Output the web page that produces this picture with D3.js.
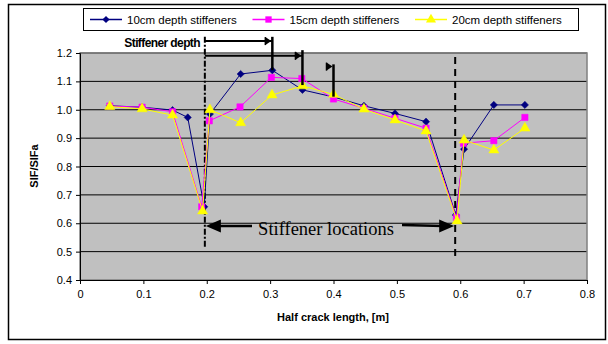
<!DOCTYPE html>
<html>
<head>
<meta charset="utf-8">
<script src="https://cdn.jsdelivr.net/npm/d3@7.9.0/dist/d3.min.js"></script>
<style>
  body { margin: 0; background: #fff; }
  svg { display: block; font-family: "Liberation Sans", Arial, sans-serif; }
</style>
</head>
<body>
<svg id="chart" width="608" height="344"></svg>
<script>
// data
const seriesNames = ['10cm depth stiffeners', '15cm depth stiffeners', '20cm depth stiffeners'];
const x10 = [0.047, 0.098, 0.146, 0.17, 0.196, 0.205, 0.2535, 0.3035, 0.351, 0.4, 0.448, 0.497, 0.546, 0.593, 0.606, 0.653, 0.702];
const y10 = [1.014, 1.009, 0.999, 0.973, 0.658, 0.985, 1.126, 1.139, 1.07, 1.045, 1.014, 0.987, 0.958, 0.629, 0.861, 1.017, 1.017];
const x15 = [0.047, 0.098, 0.146, 0.192, 0.204, 0.2525, 0.302, 0.35, 0.4, 0.448, 0.497, 0.546, 0.594, 0.605, 0.653, 0.702];
const y15 = [1.013, 1.009, 0.993, 0.658, 0.961, 1.01, 1.114, 1.11, 1.038, 1.005, 0.97, 0.935, 0.62, 0.882, 0.891, 0.973];
const x20 = [0.047, 0.098, 0.146, 0.1935, 0.205, 0.2535, 0.303, 0.351, 0.4, 0.448, 0.497, 0.546, 0.595, 0.606, 0.653, 0.702];
const y20 = [1.011, 1.003, 0.981, 0.643, 1.0, 0.954, 1.052, 1.084, 1.054, 1.002, 0.964, 0.925, 0.608, 0.893, 0.858, 0.935];
const xTicks = [0, 0.1, 0.2, 0.3, 0.4, 0.5, 0.6, 0.7, 0.8];
const yTicks = [0.4, 0.5, 0.6, 0.7, 0.8, 0.9, 1.0, 1.1, 1.2];
const stiffenerX = [0.197, 0.592];

const svg = d3.select('#chart');
const x = d3.scaleLinear().domain([0, 0.8]).range([80, 587]);
const y = d3.scaleLinear().domain([0.4, 1.2]).range([280, 53]);

// outer frame
svg.append('rect').attr('x', 8.5).attr('y', 4.5).attr('width', 597).attr('height', 335)
  .attr('fill', '#fff').attr('stroke', '#000').attr('stroke-width', 1.5);

// plot area
svg.append('rect').attr('x', x(0)).attr('y', y(1.2)).attr('width', x(0.8) - x(0)).attr('height', y(0.4) - y(1.2))
  .attr('fill', '#c0c0c0');
svg.append('g').selectAll('line').data(yTicks.slice(1)).join('line')
  .attr('x1', x(0)).attr('x2', x(0.8)).attr('y1', d => y(d)).attr('y2', d => y(d))
  .attr('stroke', '#000').attr('stroke-width', 1);
svg.append('rect').attr('x', x(0)).attr('y', y(1.2)).attr('width', x(0.8) - x(0)).attr('height', y(0.4) - y(1.2))
  .attr('fill', 'none').attr('stroke', '#808080').attr('stroke-width', 1.5);

// axes
const xAxis = svg.append('g').attr('transform', `translate(0,${y(0.4)})`)
  .call(d3.axisBottom(x).tickValues(xTicks).tickFormat(d => d === 0 ? '0' : d3.format('.1f')(d)).tickSizeOuter(0).tickSize(4).tickPadding(6));
const yAxis = svg.append('g').attr('transform', `translate(${x(0)},0)`)
  .call(d3.axisLeft(y).tickValues(yTicks).tickFormat(d3.format('.1f')).tickSizeOuter(0).tickSize(4).tickPadding(4));
[xAxis, yAxis].forEach(g => {
  g.select('.domain').attr('stroke', '#000');
  g.selectAll('.tick line').attr('stroke', '#000');
  g.selectAll('.tick text').attr('font-size', 11).attr('fill', '#000')
    .attr('font-family', '"Liberation Sans", Arial, sans-serif');
});

svg.append('text').attr('x', 333).attr('y', 321).attr('text-anchor', 'middle')
  .attr('font-size', 11).attr('font-weight', 'bold').text('Half crack length, [m]');
svg.append('text').attr('transform', 'translate(38,166) rotate(-90)').attr('text-anchor', 'middle')
  .attr('font-size', 11).attr('font-weight', 'bold').text('SIF/SIFa');

// annotation lines (behind series)
const ann = svg.append('g');
ann.append('line').attr('x1', x(stiffenerX[0])).attr('x2', x(stiffenerX[0])).attr('y1', y(1.257)).attr('y2', y(0.516))
  .attr('stroke', '#000').attr('stroke-width', 2).attr('stroke-dasharray', '6,2,2,2');
ann.append('line').attr('x1', x(stiffenerX[1])).attr('x2', x(stiffenerX[1])).attr('y1', y(1.186)).attr('y2', y(0.478))
  .attr('stroke', '#000').attr('stroke-width', 2).attr('stroke-dasharray', '7,5');

// series
const series = [
  { xs: x10, ys: y10, color: '#000080', shape: d3.symbolSquare, size: 26, rot: 45 },
  { xs: x15, ys: y15, color: '#ff00ff', shape: d3.symbolSquare, size: 40, rot: 0 },
  { xs: x20, ys: y20, color: '#ffff00', shape: d3.symbolTriangle, size: 44, rot: 0 }
];
const line = d3.line().x(d => x(d[0])).y(d => y(d[1]));
series.forEach(s => {
  const pts = s.xs.map((v, i) => [v, s.ys[i]]);
  svg.append('path').datum(pts).attr('d', line).attr('fill', 'none')
    .attr('stroke', s.color).attr('stroke-width', 1);
  svg.append('g').selectAll('path').data(pts).join('path')
    .attr('transform', d => `translate(${x(d[0])},${y(d[1])}) rotate(${s.rot})`)
    .attr('d', d3.symbol().type(s.shape).size(s.size))
    .attr('fill', s.color).attr('stroke', s.color).attr('stroke-width', 0.5);
});

// arrow heads
function head(g, tipX, tipY, dir, len, half) {
  g.append('path')
    .attr('d', `M${tipX},${tipY} L${tipX - dir * len},${tipY - half} L${tipX - dir * len},${tipY + half} Z`)
    .attr('fill', '#000');
}

// stiffener locations arrows
const locY = y(0.59);
ann.append('line').attr('x1', 252).attr('x2', x(stiffenerX[0]) + 12).attr('y1', locY).attr('y2', locY)
  .attr('stroke', '#000').attr('stroke-width', 2.5);
head(svg, x(stiffenerX[0]) + 1, locY, -1, 15, 6.5);
ann.append('line').attr('x1', 402).attr('x2', x(stiffenerX[1]) - 12).attr('y1', locY - 1).attr('y2', locY)
  .attr('stroke', '#000').attr('stroke-width', 2.5);
head(svg, x(stiffenerX[1]) - 1, locY, 1, 15, 6.5);
svg.append('text').attr('x', 326).attr('y', 235).attr('text-anchor', 'middle')
  .attr('font-family', '"Liberation Serif", "Times New Roman", serif').attr('font-size', 18.5)
  .text('Stiffener locations');

// stiffener depth arrows
svg.append('text').attr('x', 200).attr('y', 47).attr('text-anchor', 'end')
  .attr('font-family', '"Liberation Sans Narrow", "Liberation Sans", Arial, sans-serif')
  .attr('font-weight', 'bold').attr('font-size', 12).attr('letter-spacing', -0.6)
  .text('Stiffener depth');
const depth = [
  { xEnd: 0.3035, yArrow: 1.242, yTop: 1.257, yBot: 1.139, shaft: true },
  { xEnd: 0.351, yArrow: 1.19, yTop: 1.21, yBot: 1.087, shaft: true },
  { xEnd: 0.4, yArrow: 1.152, yTop: 1.16, yBot: 1.046, shaft: false }
];
depth.forEach(d => {
  const xe = x(d.xEnd), ya = y(d.yArrow);
  if (d.shaft) {
    svg.append('line').attr('x1', x(stiffenerX[0])).attr('x2', xe).attr('y1', ya).attr('y2', ya)
      .attr('stroke', '#000').attr('stroke-width', 2);
  }
  svg.append('line').attr('x1', xe).attr('x2', xe).attr('y1', y(d.yTop)).attr('y2', y(d.yBot))
    .attr('stroke', '#000').attr('stroke-width', 2.5);
  svg.append('line').attr('x1', xe - 7).attr('x2', xe - 7).attr('y1', ya - 4).attr('y2', ya + 4)
    .attr('stroke', '#000').attr('stroke-width', 1.5);
  head(svg, xe - 1, ya, 1, 6, 4);
});

// legend
const legend = svg.append('g');
legend.append('rect').attr('x', 83.5).attr('y', 8.5).attr('width', 495).attr('height', 22)
  .attr('fill', '#fff').attr('stroke', '#000').attr('stroke-width', 1);
series.forEach((s, i) => {
  const lx = 90 + i * 162.5;
  legend.append('line').attr('x1', lx).attr('x2', lx + 32).attr('y1', 19.5).attr('y2', 19.5)
    .attr('stroke', s.color).attr('stroke-width', 1.5);
  legend.append('path').attr('transform', `translate(${lx + 16},19.5) rotate(${s.rot})`)
    .attr('d', d3.symbol().type(s.shape).size(s.size)).attr('fill', s.color);
  legend.append('text').attr('x', lx + 37).attr('y', 23.5).attr('font-size', 11.5)
    .text(seriesNames[i]);
});
</script>
</body>
</html>
